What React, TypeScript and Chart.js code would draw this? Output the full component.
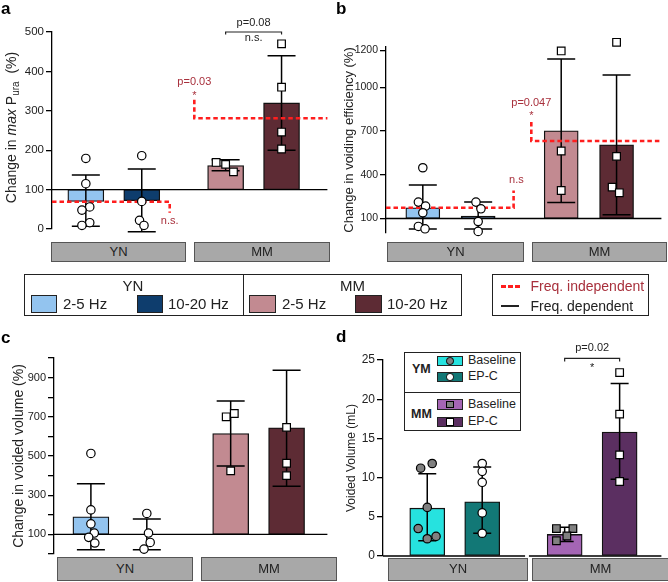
import React, { useEffect, useRef } from "react";
import { Chart, registerables } from "chart.js";
Chart.register(...registerables);

const FONT = '"Liberation Sans", Arial, Helvetica, sans-serif';
const RED = "#ff1e1e";
const DARKRED = "#a8303c";
const INK = "#222";

// ---------------- data ----------------
const groups = ["YN", "MM"];
const freqs = ["2-5 Hz", "10-20 Hz"];
const volLegendGroups = ["YM", "MM"];
const volConditions = ["Baseline", "EP-C"];

// a: change in max Pura (%)
const puraMean = [70, 72, 161, 320];
const puraErrLow = [7, -7, 148, 200];
const puraErrHigh = [137, 152, 176, 440];
const puraPoints = [
  [179, 115, 56, 48, 16, 9],
  [186, 70, 22, 9],
  [169, 164, 145],
  [470, 360, 246, 203],
];
const puraFreqIndep = [69, 281];
const puraTicks = [0, 100, 200, 300, 400, 500];
const puraTickLabels = ["0", "100", "200", "300", "400", "500"];

// b: change in voiding efficiency (%)
const veMean = [173, 116, 702, 606];
const veErrLow = [27, 27, 210, 125];
const veErrHigh = [329, 213, 1195, 1085];
const vePoints = [
  [448, 212, 185, 139, 45, 29],
  [212, 166, 79, 11],
  [1250, 563, 292],
  [1309, 526, 315, 276],
];
const veFreqIndep = [173, 632];
const veTicks = [100, 400, 700, 1000, 1255];
const veTickLabels = ["100", "400", "700", "1000", "1200"];

// c: change in voided volume (%)
const vvMean = [190, 98, 615, 644];
const vvErrLow = [22, 22, 449, 346];
const vvErrHigh = [359, 178, 781, 937];
const vvPoints = [
  [513, 225, 154, 107, 85, 56],
  [207, 107, 59, 25],
  [717, 700, 424],
  [1059, 646, 463, 400],
];
const vvTicks = [0, 100, 200, 300, 400, 500, 600, 700, 800, 900, 1000];
const vvTickLabels = ["", "100", "", "300", "", "500", "", "700", "", "900", ""];

// d: voided volume (mL)
const volMean = [6.1, 6.9, 2.75, 15.8];
const volErrLow = [1.95, 2.9, 1.85, 9.8];
const volErrHigh = [10.5, 11.35, 3.66, 22.0];
const volPoints = [
  [11.2, 11.8, 6.2, 3.5, 2.5, 2.2],
  [11.8, 10.8, 9.4, 5.5, 2.9],
  [3.5, 3.5, 2.55, 1.95],
  [23.4, 18.1, 12.9, 9.5],
];
const volTicks = [0, 5, 10, 15, 20, 25];
const volTickLabels = ["0", "5", "10", "15", "20", "25"];

// ---------------- layout / style ----------------
const slotX = [1, 2, 3.5, 4.5];
const freqColors = ["#93c4ef", "#0e3d6d", "#c28a91", "#5d2b34"];
const volColors = ["#26e2df", "#127876", "#a465b4", "#5b2f61"];
const GRAY_PT = "#808080";

const jitterA = [[0, 0, 0.07, -0.07, 0.07, -0.07], [0, 0, -0.04, 0.04], [-0.17, 0, 0.14], [0, 0, 0, 0]];
const jitterB = [[0, -0.08, 0.05, 0, -0.08, 0.04], [-0.04, 0.05, 0, 0], [0, 0, 0], [0, 0, -0.08, 0.05]];
const jitterC = [[0, 0, 0, 0.06, -0.04, 0.07], [0, 0.03, 0.06, -0.05], [0.065, -0.08, 0], [0, 0, 0, 0]];
const jitterD = [[-0.12, 0.09, 0, -0.165, 0.16, 0], [0, 0, 0, 0, 0], [-0.15, 0.15, 0.04, -0.15], [0, 0, 0, 0]];

function dashed(ctx: any, pts: number[][]) {
  ctx.save();
  ctx.strokeStyle = RED;
  ctx.lineWidth = 2.6;
  ctx.setLineDash([4.5, 3]);
  ctx.beginPath();
  pts.forEach(([x, y], i) => (i ? ctx.lineTo(x, y) : ctx.moveTo(x, y)));
  ctx.stroke();
  ctx.restore();
}
function label(ctx: any, s: string, x: number, y: number, color: string, size = 11) {
  ctx.save();
  ctx.font = `${size}px ${FONT}`;
  ctx.fillStyle = color;
  ctx.textAlign = "center";
  ctx.textBaseline = "middle";
  ctx.fillText(s, x, y);
  ctx.restore();
}
function bracket(ctx: any, x1: number, x2: number, y: number, t: number) {
  ctx.save();
  ctx.strokeStyle = INK;
  ctx.lineWidth = 1.2;
  ctx.beginPath();
  ctx.moveTo(x1, y + t);
  ctx.lineTo(x1, y);
  ctx.lineTo(x2, y);
  ctx.lineTo(x2, y + t);
  ctx.stroke();
  ctx.restore();
}

const specA: any = {
  left: 0, top: 0, width: 334, height: 250,
  means: puraMean, low: puraErrLow, high: puraErrHigh, points: puraPoints, jitter: jitterA,
  colors: freqColors, fills: ["#fff", "#fff", "#fff", "#fff"], styles: ["circle", "circle", "rect", "rect"],
  base: 100, yMin: 0, yMax: 500, ticks: puraTicks, tickLabels: puraTickLabels, tickSize: 11.5,
  xMin: 0.395, xMax: 5.32, barW: 36, capW: 28,
  pad: { top: 32, bottom: 21, right: 1 }, axisW: 52,
  customTitle: (ctx: any) => {
    ctx.save();
    ctx.translate(12.5, 127.5);
    ctx.rotate(-Math.PI / 2);
    const segs: [string, string, number][] = [
      ["Change in ", "14px", 0],
      ["max", "italic 14px", 0],
      [" P", "14px", 0],
      ["ura", "10px", 4],
      ["  (%)", "14px", 0],
    ];
    let total = 0;
    segs.forEach(([t, f]) => { ctx.font = `${f} ${FONT}`; total += ctx.measureText(t).width; });
    let x = -total / 2;
    ctx.textBaseline = "middle";
    ctx.textAlign = "left";
    ctx.fillStyle = INK;
    segs.forEach(([t, f, dy]) => { ctx.font = `${f} ${FONT}`; ctx.fillText(t, x, dy); x += ctx.measureText(t).width; });
    ctx.restore();
  },
  extra: (ctx: any, X: any, Y: any, area: any) => {
    dashed(ctx, [[area.left, Y(puraFreqIndep[0])], [X(2.5), Y(puraFreqIndep[0])], [X(2.5), Y(41)]]);
    dashed(ctx, [[X(2.94), Y(328)], [X(2.94), Y(puraFreqIndep[1])], [area.right, Y(puraFreqIndep[1])]]);
    label(ctx, "n.s.", X(2.5), Y(20), DARKRED);
    label(ctx, "*", X(2.94), Y(346) + 3, DARKRED);
    label(ctx, "p=0.03", X(2.94), Y(374), DARKRED);
    bracket(ctx, X(3.5), X(4.5), Y(500), 2.5);
    label(ctx, "p=0.08", X(4), Y(524), INK);
    label(ctx, "n.s.", X(4), Y(485), INK);
  },
};

const specB: any = {
  left: 334, top: 0, width: 334, height: 250,
  means: veMean, low: veErrLow, high: veErrHigh, points: vePoints, jitter: jitterB,
  colors: freqColors, fills: ["#fff", "#fff", "#fff", "#fff"], styles: ["circle", "circle", "rect", "rect"],
  base: 100, yMin: 0, yMax: 1277, ticks: veTicks, tickLabels: veTickLabels, tickSize: 10.5,
  xMin: 0.335, xMax: 5.31, barW: 34, capW: 28,
  pad: { top: 47, bottom: 17, right: 0 }, axisW: 52,
  title: { text: "Change in voiding efficiency (%)", size: 13, pad: 8 },
  extra: (ctx: any, X: any, Y: any, area: any) => {
    dashed(ctx, [[area.left, Y(veFreqIndep[0])], [X(2.64), Y(veFreqIndep[0])], [X(2.64), Y(292)]]);
    dashed(ctx, [[X(2.96), Y(762)], [X(2.96), Y(veFreqIndep[1])], [area.right, Y(veFreqIndep[1])]]);
    label(ctx, "n.s", X(2.69), Y(361), DARKRED);
    label(ctx, "*", X(2.96), Y(823) + 3, DARKRED);
    label(ctx, "p=0.047", X(2.96), Y(896), DARKRED);
  },
};

const specC: any = {
  left: 0, top: 320, width: 334, height: 250,
  means: vvMean, low: vvErrLow, high: vvErrHigh, points: vvPoints, jitter: jitterC,
  colors: freqColors, fills: ["#fff", "#fff", "#fff", "#fff"], styles: ["circle", "circle", "rect", "rect"],
  base: 100, yMin: 0, yMax: 1000, ticks: vvTicks, tickLabels: vvTickLabels, tickSize: 11,
  xMin: 0.34, xMax: 5.23, barW: 36, capW: 28,
  pad: { top: 38, bottom: 16, right: 0 }, axisW: 54,
  title: { text: "Change in voided volume (%)", size: 14, pad: 10.5 },
};

const specD: any = {
  left: 334, top: 320, width: 334, height: 262,
  means: volMean, low: volErrLow, high: volErrHigh, points: volPoints, jitter: jitterD,
  colors: volColors, fills: [GRAY_PT, "#fff", GRAY_PT, "#fff"], styles: ["circle", "circle", "rect", "rect"],
  base: 0, yMin: 0, yMax: 25, ticks: volTicks, tickLabels: volTickLabels, tickSize: 12,
  xMin: 0.195, xMax: 5.26, barW: 35, capW: 18,
  pad: { top: 40, bottom: 26, right: 0 }, axisW: 49,
  baseSeg: [[0.195, 2.78], [2.85, 5.26]],
  title: { text: "Voided Volume (mL)", size: 12, pad: 10.8 },
  extra: (ctx: any, X: any, Y: any) => {
    bracket(ctx, X(3.5), X(4.5), Y(25.2), 3);
    label(ctx, "p=0.02", X(4), Y(26.5), INK);
    label(ctx, "*", X(4), Y(24.4) + 3, INK);
  },
};

function buildConfig(s: any): any {
  const deco = {
    id: "deco",
    afterDatasetDraw(chart: any, args: any) {
      if (args.index !== 0) return;
      const ctx = chart.ctx;
      const X = (v: number) => chart.scales.x.getPixelForValue(v);
      const Y = (v: number) => chart.scales.y.getPixelForValue(v);
      const area = chart.chartArea;
      ctx.save();
      ctx.strokeStyle = "#000";
      ctx.lineWidth = 1.4;
      const segs = s.baseSeg ? s.baseSeg.map(([a, b]: number[]) => [X(a), X(b)]) : [[area.left, area.right]];
      ctx.beginPath();
      segs.forEach(([a, b]: number[]) => { ctx.moveTo(a, Y(s.base)); ctx.lineTo(b, Y(s.base)); });
      ctx.stroke();
      ctx.lineWidth = 1.5;
      s.means.forEach((_: number, i: number) => {
        const x = X(slotX[i]);
        const y1 = Y(s.low[i]);
        const y2 = Y(s.high[i]);
        const h = s.capW / 2;
        ctx.beginPath();
        ctx.moveTo(x, y1); ctx.lineTo(x, y2);
        ctx.moveTo(x - h, y1); ctx.lineTo(x + h, y1);
        ctx.moveTo(x - h, y2); ctx.lineTo(x + h, y2);
        ctx.stroke();
      });
      if (s.extra) s.extra(ctx, X, Y, area);
      ctx.restore();
    },
    afterDraw(chart: any) {
      if (s.customTitle) s.customTitle(chart.ctx, chart);
    },
  };
  return {
    type: "bar",
    data: {
      datasets: [
        {
          type: "bar",
          data: s.means.map((m: number, i: number) => ({ x: slotX[i], y: [s.base, m] })),
          backgroundColor: s.colors,
          borderColor: "#111",
          borderWidth: 1.3,
          borderSkipped: false,
          barThickness: s.barW,
          order: 1,
        },
        ...s.points.map((pts: number[], i: number) => ({
          type: "scatter",
          data: pts.map((v, j) => ({ x: slotX[i] + s.jitter[i][j], y: v })),
          pointStyle: s.styles[i],
          pointRadius: s.styles[i] === "rect" ? 5.4 : 4.2,
          backgroundColor: s.fills[i],
          borderColor: "#000",
          borderWidth: 1.2,
          clip: false,
          order: 0,
        })),
      ],
    },
    options: {
      responsive: false,
      animation: false,
      layout: { padding: { top: s.pad.top, bottom: s.pad.bottom, left: 0, right: s.pad.right } },
      plugins: { legend: { display: false }, tooltip: { enabled: false } },
      scales: {
        x: { type: "linear", display: false, min: s.xMin, max: s.xMax, offset: false, grid: { offset: false } },
        y: {
          type: "linear",
          min: s.yMin,
          max: s.yMax,
          afterFit: (sc: any) => { sc.width = s.axisW; },
          afterBuildTicks: (sc: any) => { sc.ticks = s.ticks.map((v: number) => ({ value: v })); },
          ticks: {
            autoSkip: false,
            padding: 2,
            color: INK,
            font: { family: FONT, size: s.tickSize },
            callback: (_v: any, i: number) => s.tickLabels[i],
          },
          grid: { drawOnChartArea: false, drawTicks: true, tickLength: 6, color: "#000", lineWidth: 1.3 },
          border: { display: true, color: "#000", width: 1.3 },
          title: s.title
            ? { display: true, text: s.title.text, color: INK, font: { family: FONT, size: s.title.size }, padding: { top: s.title.pad, bottom: 0 } }
            : { display: false },
        },
      },
    },
    plugins: [deco],
  };
}

function Panel({ spec }: { spec: any }) {
  const ref = useRef<HTMLCanvasElement>(null);
  useEffect(() => {
    const chart = new Chart(ref.current as HTMLCanvasElement, buildConfig(spec));
    return () => chart.destroy();
  }, [spec]);
  return (
    <canvas
      ref={ref}
      width={spec.width}
      height={spec.height}
      style={{ position: "absolute", left: spec.left, top: spec.top, width: spec.width, height: spec.height }}
    />
  );
}

function Box({ x, y, w, h, style, children }: any) {
  return (
    <div style={{ position: "absolute", left: x, top: y, width: w, height: h, boxSizing: "border-box", ...style }}>
      {children}
    </div>
  );
}

function Txt({ x, cy, s, size, color = INK, weight = "normal", center = false }: any) {
  const lh = size * 1.2;
  return (
    <div
      style={{
        position: "absolute",
        left: center ? x - 100 : x,
        width: center ? 200 : undefined,
        top: cy - lh / 2,
        height: lh,
        lineHeight: `${lh}px`,
        fontSize: size,
        fontWeight: weight,
        color,
        textAlign: center ? "center" : "left",
        whiteSpace: "nowrap",
      }}
    >
      {s}
    </div>
  );
}

function GroupBox({ x, y, w, h, s }: any) {
  return (
    <Box x={x} y={y} w={w} h={h} style={{ background: "#a8a8a8", border: "1.5px solid #555", textAlign: "center", lineHeight: `${h - 3}px`, fontSize: 13, color: INK }}>
      {s}
    </Box>
  );
}

function Swatch({ x, y, w, h, color }: any) {
  return <Box x={x} y={y} w={w} h={h} style={{ background: color, border: "1px solid #222" }} />;
}

export default function App() {
  const volRows = [
    { y: 355.7, color: volColors[0], round: true, fill: GRAY_PT, text: volConditions[0] },
    { y: 371.7, color: volColors[1], round: true, fill: "#fff", text: volConditions[1] },
    { y: 399.3, color: volColors[2], round: false, fill: GRAY_PT, text: volConditions[0] },
    { y: 416.7, color: volColors[3], round: false, fill: "#fff", text: volConditions[1] },
  ];
  return (
    <div style={{ position: "fixed", left: 0, top: 0, width: 668, height: 582, background: "#fff", fontFamily: FONT, overflow: "hidden" }}>
      <Panel spec={specA} />
      <Panel spec={specB} />
      <Panel spec={specC} />
      <Panel spec={specD} />

      {/* panel letters */}
      <div style={{ position: "absolute", left: 1, top: -1.1, fontSize: 17, lineHeight: "20.4px", fontWeight: "bold", color: "#000" }}>a</div>
      <div style={{ position: "absolute", left: 336, top: -1.1, fontSize: 17, lineHeight: "20.4px", fontWeight: "bold", color: "#000" }}>b</div>
      <div style={{ position: "absolute", left: 1, top: 327.9, fontSize: 17, lineHeight: "20.4px", fontWeight: "bold", color: "#000" }}>c</div>
      <div style={{ position: "absolute", left: 336, top: 327, fontSize: 17, lineHeight: "20.4px", fontWeight: "bold", color: "#000" }}>d</div>

      {/* group boxes */}
      <GroupBox x={51} y={242} w={135} h={20} s={groups[0]} />
      <GroupBox x={194} y={242} w={136} h={20} s={groups[1]} />
      <GroupBox x={387} y={242} w={137} h={20} s={groups[0]} />
      <GroupBox x={532} y={242} w={135} h={20} s={groups[1]} />
      <GroupBox x={57} y={557} w={136} h={24} s={groups[0]} />
      <GroupBox x={201} y={557} w={136} h={24} s={groups[1]} />
      <GroupBox x={388} y={558} w={140} h={23} s={groups[0]} />
      <GroupBox x={532} y={558} w={137} h={23} s={groups[1]} />

      {/* frequency legend */}
      <Box x={24} y={274} w={438} h={42} style={{ border: "1px solid #222", background: "#fff" }} />
      <Box x={242.5} y={274} w={1} h={42} style={{ background: "#222" }} />
      <Txt x={133} cy={286} s={groups[0]} size={15} center />
      <Swatch x={31} y={294.5} w={26} h={18} color={freqColors[0]} />
      <Txt x={63} cy={303.5} s={freqs[0]} size={15} />
      <Swatch x={137} y={294.5} w={26} h={18} color={freqColors[1]} />
      <Txt x={168} cy={303.5} s={freqs[1]} size={15} />
      <Txt x={352.5} cy={286} s={groups[1]} size={15} center />
      <Swatch x={249} y={294.5} w={27} h={18} color={freqColors[2]} />
      <Txt x={282} cy={303.5} s={freqs[0]} size={15} />
      <Swatch x={355} y={294.5} w={27} h={18} color={freqColors[3]} />
      <Txt x={387} cy={303.5} s={freqs[1]} size={15} />

      {/* line legend */}
      <Box x={492} y={274} w={157} h={42} style={{ border: "1px solid #222", background: "#fff" }} />
      <Box x={501} y={284.5} w={4.5} h={3} style={{ background: RED }} />
      <Box x={508} y={284.5} w={4.5} h={3} style={{ background: RED }} />
      <Box x={515} y={284.5} w={4.5} h={3} style={{ background: RED }} />
      <Txt x={530.5} cy={286} s="Freq. independent" size={14} color={DARKRED} />
      <Box x={501} y={305.3} w={18} h={1.5} style={{ background: "#222" }} />
      <Txt x={530.5} cy={306} s="Freq. dependent" size={14} />

      {/* panel d legend */}
      <Box x={404} y={352} w={117} h={79} style={{ border: "1px solid #222", background: "#fff" }} />
      <Box x={404} y={391.5} w={117} h={1} style={{ background: "#222" }} />
      <Txt x={412} cy={369} s={volLegendGroups[0]} size={12.5} weight="bold" />
      <Txt x={411} cy={414} s={volLegendGroups[1]} size={12.5} weight="bold" />
      {volRows.map((r, i) => (
        <React.Fragment key={i}>
          <Swatch x={437} y={r.y} w={26} h={10.5} color={r.color} />
          <Box
            x={450 - 3.75}
            y={r.y + 5.25 - 3.75}
            w={7.5}
            h={7.5}
            style={{ background: r.fill, border: "1px solid #000", borderRadius: r.round ? "50%" : 0 }}
          />
          <Txt x={468} cy={r.y + 5.25} s={r.text} size={12.5} />
        </React.Fragment>
      ))}
    </div>
  );
}
